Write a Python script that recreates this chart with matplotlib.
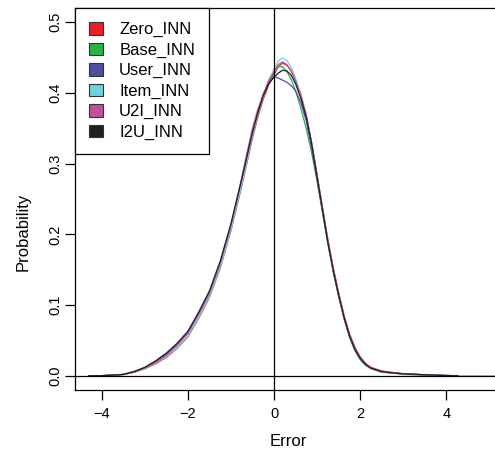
import matplotlib
matplotlib.use("Agg")
import matplotlib.pyplot as plt
from matplotlib.patches import Patch

plt.rcParams['font.family'] = ['Liberation Sans', 'DejaVu Sans']

# density estimates (error grid, then one list per model)
err = [-4.3, -4.0, -3.75, -3.5, -3.25, -3.0, -2.75, -2.5, -2.25, -2.0,
       -1.75, -1.5, -1.25, -1.0, -0.75, -0.625, -0.5, -0.375, -0.25, -0.125,
       0.0, 0.1, 0.2, 0.3, 0.4, 0.5, 0.625, 0.75, 0.875, 1.0,
       1.125, 1.25, 1.375, 1.5, 1.625, 1.75, 1.875, 2.0, 2.125, 2.25,
       2.5, 2.75, 3.0, 3.5, 4.0, 4.3]

zero_inn = [0, .0003, .001, .002, .005, .010, .017, .026, .039, .055,
            .081, .111, .152, .205, .268, .302, .336, .366, .391, .411,
            .426, .437, .442, .439, .431, .418, .396, .368, .329, .284,
            .238, .193, .153, .118, .086, .060, .041, .027, .018, .012,
            .007, .005, .003, .0015, .0005, 0]
base_inn = [0, .0003, .001, .002, .006, .012, .021, .032, .045, .061,
            .087, .117, .158, .211, .275, .308, .342, .371, .396, .415,
            .428, .437, .437, .430, .419, .403, .378, .349, .315, .275,
            .231, .187, .147, .112, .081, .055, .036, .023, .015, .010,
            .005, .004, .002, .001, .0004, 0]
user_inn = [0, .0003, .001, .002, .006, .011, .020, .030, .044, .060,
            .087, .117, .158, .211, .275, .309, .343, .373, .398, .414,
            .423, .421, .418, .415, .410, .403, .386, .360, .322, .278,
            .233, .188, .148, .114, .082, .056, .037, .024, .016, .011,
            .006, .004, .003, .0015, .0005, 0]
item_inn = [0, .0003, .001, .002, .005, .010, .018, .027, .040, .056,
            .082, .112, .153, .206, .270, .304, .339, .369, .394, .418,
            .433, .445, .449, .446, .436, .421, .398, .369, .329, .283,
            .237, .191, .151, .116, .084, .058, .039, .026, .017, .011,
            .006, .004, .003, .0015, .0008, .0004]
u2i_inn = [0, .0003, .001, .002, .005, .011, .019, .029, .043, .060,
           .087, .117, .159, .213, .280, .316, .350, .377, .398, .417,
           .430, .440, .444, .440, .431, .417, .396, .368, .329, .284,
           .238, .192, .152, .117, .085, .058, .039, .026, .017, .011,
           .006, .004, .003, .0015, .0005, 0]
i2u_inn = [0, .0003, .001, .002, .006, .012, .021, .032, .046, .063,
           .090, .120, .162, .215, .278, .311, .344, .372, .396, .413,
           .422, .428, .432, .431, .425, .413, .392, .365, .327, .281,
           .235, .189, .149, .114, .083, .057, .038, .025, .016, .011,
           .006, .004, .003, .0015, .0005, 0]

# the Item_INN estimate runs further to the right
item_tail_x = [4.3, 4.8, 5.4]
item_tail_y = [0.0004, 0.0002, 0.0001]

labels = ["Zero_INN", "Base_INN", "User_INN", "Item_INN", "U2I_INN", "I2U_INN"]
colors = ["#E8202A", "#2DB04A", "#5050A0", "#70D0E0", "#C04FA0", "#231F20"]
series = [zero_inn, base_inn, user_inn, item_inn, u2i_inn, i2u_inn]

fig = plt.figure(figsize=(4.95, 4.54), dpi=100)
ax = fig.add_axes([75 / 495, 64 / 454, 426 / 495, 382 / 454])

for lab, col, ys in zip(labels, colors, series):
    ax.plot(err, ys, color=col, lw=0.9, solid_joinstyle="round")
ax.plot(item_tail_x, item_tail_y, color=colors[3], lw=0.9)

ax.axvline(0, color="black", lw=0.9)
ax.axhline(0, color="black", lw=0.9)

ax.set_xlim(-4.62, 5.27)
ax.set_ylim(-0.02, 0.52)
ax.set_xticks([-4, -2, 0, 2, 4])
ax.set_yticks([0.0, 0.1, 0.2, 0.3, 0.4, 0.5])
ax.set_yticklabels(["0.0", "0.1", "0.2", "0.3", "0.4", "0.5"], rotation=90, va="center")
ax.tick_params(direction="out", length=7, width=0.9, labelsize=10.5)
ax.tick_params(axis="x", pad=5)
ax.tick_params(axis="y", pad=2)
for s in ax.spines.values():
    s.set_linewidth(0.9)

ax.set_xlabel("Error", fontsize=12)
ax.xaxis.set_label_coords(0.5, -0.115)
ax.set_ylabel("Probability", fontsize=12)
ax.yaxis.set_label_coords(-0.103, 0.414)

handles = [Patch(facecolor=c, edgecolor="#333333", lw=0.8) for c in colors]
leg = ax.legend(handles, labels, loc="upper left", borderaxespad=0, fancybox=False,
                edgecolor="black", fontsize=12, handlelength=0.8, handleheight=0.8,
                handletextpad=1.0, labelspacing=0.31, borderpad=0.85, framealpha=1)
leg.get_frame().set_linewidth(0.9)

fig.savefig("out.png", dpi=100)
